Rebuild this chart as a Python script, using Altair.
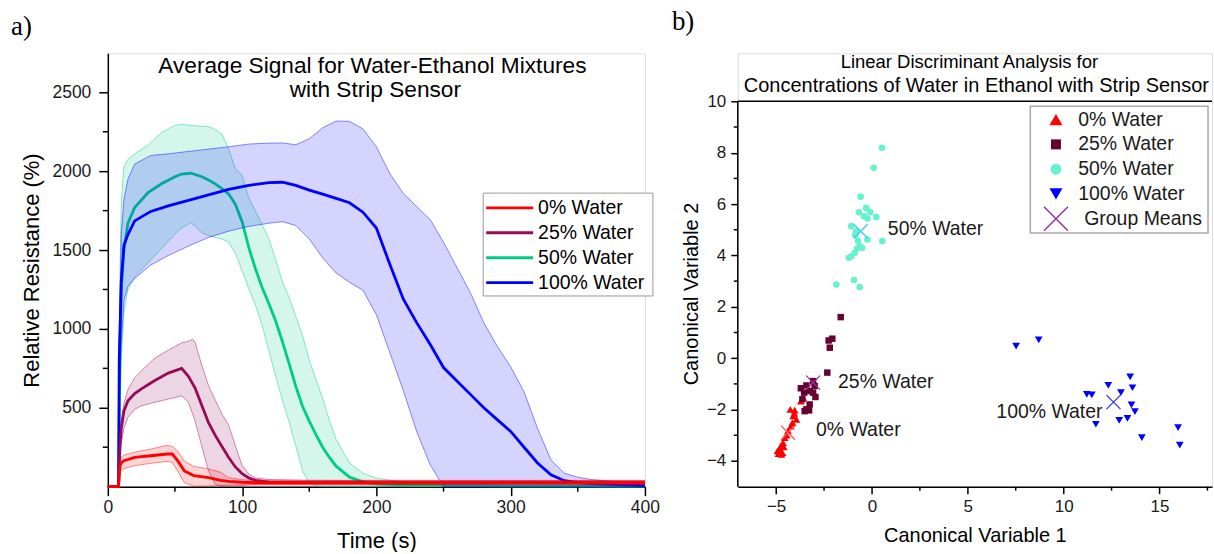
import altair as alt
import pandas as pd

SANS = "Liberation Sans"
SERIF = "Liberation Serif"

# ---------------- Panel a) data ----------------
series_names = ["0% Water", "25% Water", "50% Water", "100% Water"]
series_colors = ["#ff0000", "#960a5a", "#00cc88", "#0000ff"]

t_0 = [0, 8, 9, 10, 12, 20, 32, 44, 48, 52, 57, 64, 75, 84, 90, 100, 110, 150, 200, 300, 400]
mean_0 = [0, 0, 130, 150, 165, 186, 196, 207, 207, 165, 100, 70, 57, 40, 33, 28, 26, 25, 25, 25, 25]
upper_0 = [0, 0, 160, 185, 200, 218, 238, 262, 255, 226, 162, 128, 113, 91, 57, 44, 40, 40, 40, 40, 40]
lower_0 = [0, 0, 90, 105, 115, 133, 148, 160, 154, 100, 25, 3, 5, 8, 10, 12, 12, 12, 12, 12, 12]

t_25 = [0, 8, 9, 10, 12, 15, 20, 25, 35, 45, 55, 60, 63, 65, 70, 75, 80, 85, 90, 95,
        100, 105, 110, 120, 150, 200, 300, 400]
mean_25 = [0, 0, 250, 370, 480, 545, 590, 620, 673, 720, 750, 700, 655, 625, 515, 405, 325, 255, 185, 125,
           82, 55, 40, 28, 25, 25, 25, 25]
upper_25 = [0, 0, 300, 420, 530, 615, 690, 735, 815, 865, 912, 922, 934, 915, 770, 640, 550, 460, 390, 260,
            135, 80, 55, 45, 40, 38, 38, 38]
lower_25 = [0, 0, 180, 270, 370, 440, 490, 513, 535, 555, 575, 535, 465, 415, 255, 100, 15, 5, 5, 5,
            8, 10, 12, 12, 12, 12, 12, 12]

t_50 = [0, 8, 9, 10, 12, 15, 20, 30, 40, 50, 55, 62, 70, 75, 80, 85, 90, 95, 100, 105,
        110, 115, 120, 125, 130, 135, 140, 145, 150, 155, 160, 165, 170, 180, 190, 200, 225, 250, 300, 400]
mean_50 = [0, 0, 900, 1250, 1500, 1670, 1770, 1865, 1920, 1965, 1982, 1988, 1965, 1945, 1920, 1890, 1855, 1790, 1680, 1515,
           1380, 1260, 1160, 1050, 920, 780, 635, 510, 415, 330, 250, 185, 130, 60, 30, 17, 10, 8, 5, 3]
upper_50 = [0, 0, 1300, 1800, 2030, 2075, 2110, 2165, 2245, 2290, 2298, 2290, 2285, 2283, 2265, 2235, 2140, 2015, 1975, 1830,
            1745, 1660, 1570, 1440, 1300, 1200, 1080, 960, 800, 680, 560, 420, 300, 150, 85, 55, 22, 12, 7, 4]
lower_50 = [0, 0, 400, 800, 1100, 1250, 1330, 1420, 1510, 1600, 1640, 1673, 1610, 1592, 1580, 1570, 1550, 1480, 1370, 1255,
            1150, 1020, 860, 700, 550, 410, 260, 100, 20, 5, 0, 0, 0, 0, 0, 0, 0, 0, 0, 0]

t_100 = [0, 8, 8.5, 10, 12, 15, 20, 32, 45, 60, 75, 90, 105, 120, 130, 140, 150, 160, 170, 180,
         190, 200, 210, 220, 230, 240, 250, 260, 270, 280, 290, 300, 310, 320, 330, 340, 350, 360, 375, 400]
mean_100 = [0, 0, 800, 1300, 1530, 1600, 1685, 1745, 1780, 1815, 1850, 1885, 1910, 1927, 1930, 1910, 1880, 1855, 1828, 1800,
            1740, 1640, 1410, 1190, 1040, 903, 755, 670, 585, 500, 425, 350, 250, 150, 75, 38, 26, 20, 14, 6]
upper_100 = [0, 0, 900, 1600, 1820, 1950, 2045, 2100, 2110, 2125, 2140, 2155, 2172, 2178, 2179, 2168, 2205, 2275, 2318, 2316,
             2268, 2155, 1985, 1860, 1775, 1694, 1550, 1390, 1230, 1040, 890, 760, 600, 370, 170, 85, 60, 45, 35, 27]
lower_100 = [0, 0, 500, 900, 1180, 1270, 1320, 1405, 1465, 1525, 1580, 1620, 1650, 1670, 1680, 1655, 1570, 1450, 1355, 1295,
             1245, 1090, 850, 610, 350, 140, 0, 0, 0, 0, 0, 0, 0, 0, 0, 0, 0, 0, 0, 0]

x_major_a = [0, 100, 200, 300, 400]
x_minor_a = [50, 150, 250, 350]
y_major_a = [500, 1000, 1500, 2000, 2500]
y_minor_a = [250, 750, 1250, 1750, 2250]

# ---------------- Panel b) data ----------------
w0_x = [-4.26, -4.03, -3.59, -3.71, -4.11, -3.94, -4.15, -4.23, -4.38, -4.55, -4.64, -4.76, -4.81, -4.93,
        -4.67, -4.72, -4.05, -4.60, -4.88, -4.45]
w0_y = [-1.99, -2.02, -1.54, -1.67, -2.25, -2.38, -2.51, -2.64, -2.83, -3.09, -3.29, -3.42, -3.55, -3.61,
        -3.68, -3.74, -2.15, -3.45, -3.72, -3.00]
w25_x = [-1.63, -2.26, -2.07, -2.20, -2.33, -3.07, -3.42, -3.71, -2.99, -3.25, -3.07, -3.54, -2.95, -3.63,
         -3.42, -3.28, -3.51, -3.25]
w25_y = [1.60, 0.69, 0.76, 0.41, -0.56, -0.89, -1.06, -1.17, -1.08, -1.28, -1.34, -1.34, -1.51, -1.60,
         -1.99, -2.03, -2.06, -1.80]
w50_x = [0.52, 0.09, -0.59, -0.30, -0.68, -0.09, -0.42, -0.24, 0.23, -1.08, -0.82, -0.87, -0.24, 0.54,
         -0.73, -0.64, -0.78, -0.52, -0.90, -1.08, -1.20, -1.86, -0.94, -0.64]
w50_y = [8.19, 7.41, 6.29, 5.85, 5.68, 5.68, 5.53, 5.44, 5.49, 5.14, 4.94, 4.79, 4.62, 4.56,
         4.56, 4.36, 4.27, 4.30, 4.10, 3.97, 3.91, 2.87, 3.04, 2.77]
w100_x = [7.52, 8.70, 13.47, 12.33, 13.59, 11.21, 11.47, 12.99, 13.54, 13.72, 13.33, 12.90, 11.68, 14.08,
          15.97, 16.06]
w100_y = [0.47, 0.71, -0.73, -1.06, -1.15, -1.41, -1.43, -1.34, -1.82, -2.08, -2.34, -2.42, -2.57, -3.09,
          -2.70, -3.38]

scatter_colors = ["#ff0000", "#660033", "#66f2cc", "#0000ff"]
scatter_shapes = ["triangle-up", "square", "circle", "triangle-down"]
scatter_sizes = [60, 42, 44, 60]
legend_sizes = [169, 100, 121, 169]

mean_x = [-4.38, -3.07, -0.59, 12.6]
mean_y = [-2.90, -0.95, 4.94, -1.71]
mean_colors = ["#ff5a5a", "#993399", "#33ccff", "#3333ff"]

ann_text = ["0% Water", "25% Water", "50% Water", "100% Water"]
ann_x = [-2.92, -1.77, 0.83, 12.03]
ann_y = [-2.79, -0.93, 5.02, -2.08]
ann_align = ["left", "left", "left", "right"]

x_major_b = [-5, 0, 5, 10, 15]
x_minor_b = [-2.5, 2.5, 7.5, 12.5, 17.5]
y_major_b = [-4, -2, 0, 2, 4, 6, 8, 10]
y_minor_b = [-3, -1, 1, 3, 5, 7, 9]

XPATH = "M-1,-1L1,1M-1,1L1,-1"
one = pd.DataFrame({"a": [0]})

# ---------------- Panel a) ----------------
WA, HA = 538, 434
sx_a = alt.Scale(domain=[0, 400], nice=False, zero=False)
sy_a = alt.Scale(domain=[0, 2747], nice=False, zero=False)
ax_ax = alt.Axis(values=x_major_a, title="Time (s)", tickSize=9, tickWidth=1.5, tickColor="black",
                 domainColor="black", domainWidth=1.5, labelFont=SANS, labelFontSize=17.5,
                 labelColor="#1a1a1a", labelPadding=3, titleFont=SANS, titleFontSize=22,
                 titleFontWeight="normal", titleColor="black", titlePadding=14, grid=False,
                 labelFlush=False, format="d")
ax_ay = alt.Axis(values=y_major_a, title="Relative Resistance (%)", tickSize=9, tickWidth=1.5,
                 tickColor="black", domainColor="black", domainWidth=1.5, labelFont=SANS,
                 labelFontSize=17.5, labelColor="#1a1a1a", labelPadding=8, titleFont=SANS,
                 titleFontSize=22, titleFontWeight="normal", titleColor="black", titlePadding=9,
                 grid=False, format="d")


def XA(f):
    return alt.X(f"{f}:Q", scale=sx_a, axis=ax_ax)


def YA(f):
    return alt.Y(f"{f}:Q", scale=sy_a, axis=ax_ay)


series_data = {
    "0% Water": (t_0, mean_0, upper_0, lower_0),
    "25% Water": (t_25, mean_25, upper_25, lower_25),
    "50% Water": (t_50, mean_50, upper_50, lower_50),
    "100% Water": (t_100, mean_100, upper_100, lower_100),
}

layers_a = [
    alt.Chart(one).mark_rect(color="white").encode(
        x=alt.value(-107), x2=alt.value(-106), y=alt.value(-52), y2=alt.value(-51))
]
for name in ["50% Water", "100% Water", "25% Water", "0% Water"]:
    c = series_colors[series_names.index(name)]
    t, m, u, l = series_data[name]
    df = pd.DataFrame({"t": t, "mean": m, "upper": u, "lower": l})
    base = alt.Chart(df)
    layers_a.append(base.mark_area(color=c, opacity=0.17).encode(
        x=XA("t"), y=YA("lower"), y2=alt.Y2("upper")))
    layers_a.append(base.mark_line(color=c, strokeWidth=1, opacity=0.45).encode(
        x=XA("t"), y=YA("upper")))
    layers_a.append(base.mark_line(color=c, strokeWidth=1, opacity=0.45).encode(
        x=XA("t"), y=YA("lower")))
    layers_a.append(base.mark_line(color=c, strokeWidth=2.8).encode(
        x=XA("t"), y=YA("mean")))

layers_a.append(alt.Chart(pd.DataFrame({"v": x_minor_a})).mark_rule(color="black", strokeWidth=1.5).encode(
    x=XA("v"), y=alt.value(HA), y2=alt.value(HA + 5)))
layers_a.append(alt.Chart(pd.DataFrame({"v": y_minor_a})).mark_rule(color="black", strokeWidth=1.5).encode(
    y=YA("v"), x=alt.value(-5), x2=alt.value(0)))

# title
layers_a.append(alt.Chart(one).mark_text(text="Average Signal for Water-Ethanol Mixtures", font=SANS,
                                         fontSize=22.7, align="center", baseline="alphabetic",
                                         color="black").encode(x=alt.value(265), y=alt.value(20)))
layers_a.append(alt.Chart(one).mark_text(text="with Strip Sensor", font=SANS, fontSize=22.7,
                                         align="center", baseline="alphabetic",
                                         color="black").encode(x=alt.value(268), y=alt.value(44)))
layers_a.append(alt.Chart(one).mark_text(text="a)", font=SERIF, fontSize=27, align="left",
                                         baseline="middle", color="black").encode(
    x=alt.value(-97), y=alt.value(-26)))

# legend a
layers_a.append(alt.Chart(one).mark_rect(fill="white", stroke="#999999", strokeWidth=1).encode(
    x=alt.value(376), x2=alt.value(546), y=alt.value(140), y2=alt.value(243)))
for i, name in enumerate(series_names):
    yy = 154.7 + 25 * i
    layers_a.append(alt.Chart(one).mark_rule(color=series_colors[i], strokeWidth=2.8).encode(
        x=alt.value(379), x2=alt.value(426), y=alt.value(yy)))
    layers_a.append(alt.Chart(one).mark_text(text=name, font=SANS, fontSize=19.5, align="left",
                                             baseline="middle", color="black").encode(
        x=alt.value(431), y=alt.value(yy)))

panel_a = alt.layer(*layers_a).properties(width=WA, height=HA)

# ---------------- Panel b) ----------------
WB, HB = 475, 434
XMAX = 17.74
YTOP = 11.867
sx_b = alt.Scale(domain=[-7, XMAX], nice=False, zero=False)
sy_b = alt.Scale(domain=[-5, YTOP], nice=False, zero=False)
ax_bx = alt.Axis(values=x_major_b, title="Canonical Variable 1", tickSize=7, tickWidth=1.5,
                 tickColor="black", domainColor="black", domainWidth=1.5, labelFont=SANS,
                 labelFontSize=17, labelColor="#1a1a1a", labelPadding=5, titleFont=SANS,
                 titleFontSize=20, titleFontWeight="normal", titleColor="black", titlePadding=11,
                 grid=False, labelFlush=False)
ax_by = alt.Axis(values=y_major_b, title=None, tickSize=7, tickWidth=1.5, tickColor="black",
                 domain=False, labelFont=SANS, labelFontSize=17, labelColor="#1a1a1a",
                 labelPadding=5, grid=False)


def XB(f):
    return alt.X(f"{f}:Q", scale=sx_b, axis=ax_bx)


def YB(f):
    return alt.Y(f"{f}:Q", scale=sy_b, axis=ax_by)


layers_b = []
# frame lines
layers_b.append(alt.Chart(one).mark_rule(color="black", strokeWidth=1.5).encode(
    x=alt.datum(-7), y=alt.datum(-5), y2=alt.datum(10)))
layers_b.append(alt.Chart(one).mark_rule(color="black", strokeWidth=1.5).encode(
    x=alt.datum(-7), x2=alt.datum(XMAX), y=alt.datum(10)))
layers_b.append(alt.Chart(pd.DataFrame({"v": x_minor_b})).mark_rule(color="black", strokeWidth=1.5).encode(
    x=XB("v"), y=alt.value(HB), y2=alt.value(HB + 4)))
layers_b.append(alt.Chart(pd.DataFrame({"v": y_minor_b})).mark_rule(color="black", strokeWidth=1.5).encode(
    y=YB("v"), x=alt.value(-4), x2=alt.value(0)))

groups = [(w0_x, w0_y), (w25_x, w25_y), (w50_x, w50_y), (w100_x, w100_y)]
for i, (gx, gy) in enumerate(groups):
    df = pd.DataFrame({"cv1": gx, "cv2": gy})
    layers_b.append(alt.Chart(df).mark_point(shape=scatter_shapes[i], filled=True, opacity=1,
                                             size=scatter_sizes[i], color=scatter_colors[i]).encode(
        x=XB("cv1"), y=YB("cv2")))

means_df = pd.DataFrame({"cv1": mean_x, "cv2": mean_y, "grp": series_names})
layers_b.append(alt.Chart(means_df).mark_point(shape=XPATH, filled=False, size=196, strokeWidth=1.3,
                                               opacity=1).encode(
    x=XB("cv1"), y=YB("cv2"),
    color=alt.Color("grp:N", scale=alt.Scale(domain=series_names, range=mean_colors), legend=None)))

ann_df = pd.DataFrame({"cv1": ann_x, "cv2": ann_y, "txt": ann_text, "al": ann_align})
for al in ["left", "right"]:
    layers_b.append(alt.Chart(ann_df).transform_filter(alt.datum.al == al).mark_text(
        font=SANS, fontSize=19.5, align=al, baseline="middle", color="#1a1a1a").encode(
        x=XB("cv1"), y=YB("cv2"), text="txt:N"))

# titles
layers_b.append(alt.Chart(one).mark_text(text="Linear Discriminant Analysis for", font=SANS,
                                         fontSize=18.5, align="center", baseline="middle",
                                         color="black").encode(x=alt.value(232), y=alt.value(9)))
layers_b.append(alt.Chart(one).mark_text(text="Concentrations of Water in Ethanol with Strip Sensor",
                                         font=SANS, fontSize=20, align="center", baseline="middle",
                                         color="black").encode(x=alt.value(239), y=alt.value(33)))
layers_b.append(alt.Chart(one).mark_text(text="b)", font=SERIF, fontSize=27, align="left",
                                         baseline="middle", color="black").encode(
    x=alt.value(-66), y=alt.value(-31)))
layers_b.append(alt.Chart(one).mark_text(text="Canonical Variable 2", font=SANS, fontSize=20,
                                         align="center", baseline="middle", angle=270,
                                         color="black").encode(x=alt.value(-46), y=alt.value(241)))

# legend b
layers_b.append(alt.Chart(one).mark_rect(fill="white", stroke="#aaaaaa", strokeWidth=1.5).encode(
    x=alt.value(293), x2=alt.value(471), y=alt.value(53), y2=alt.value(180)))
for i, name in enumerate(series_names):
    yy = 66.3 + 24.85 * i
    layers_b.append(alt.Chart(one).mark_point(shape=scatter_shapes[i], filled=True, opacity=1,
                                              size=legend_sizes[i], color=scatter_colors[i]).encode(
        x=alt.value(318.7), y=alt.value(yy)))
    layers_b.append(alt.Chart(one).mark_text(text=name, font=SANS, fontSize=19.5, align="left",
                                             baseline="middle", color="#1a1a1a").encode(
        x=alt.value(341), y=alt.value(yy)))
yy = 66.3 + 24.85 * 4
layers_b.append(alt.Chart(one).mark_point(shape=XPATH, filled=False, size=576, strokeWidth=1.5,
                                          opacity=1, color="#993399").encode(
    x=alt.value(318.7), y=alt.value(yy)))
layers_b.append(alt.Chart(one).mark_text(text="Group Means", font=SANS, fontSize=19.5, align="left",
                                         baseline="middle", color="#1a1a1a").encode(
    x=alt.value(347), y=alt.value(yy)))

panel_b = alt.layer(*layers_b).properties(width=WB, height=HB)

chart = alt.hconcat(panel_a, panel_b, spacing=93, bounds="flush", padding=0).configure_view(
    stroke=None).configure(background="white")

chart.save("out.html", embed_options={"renderer": "svg", "actions": False})
